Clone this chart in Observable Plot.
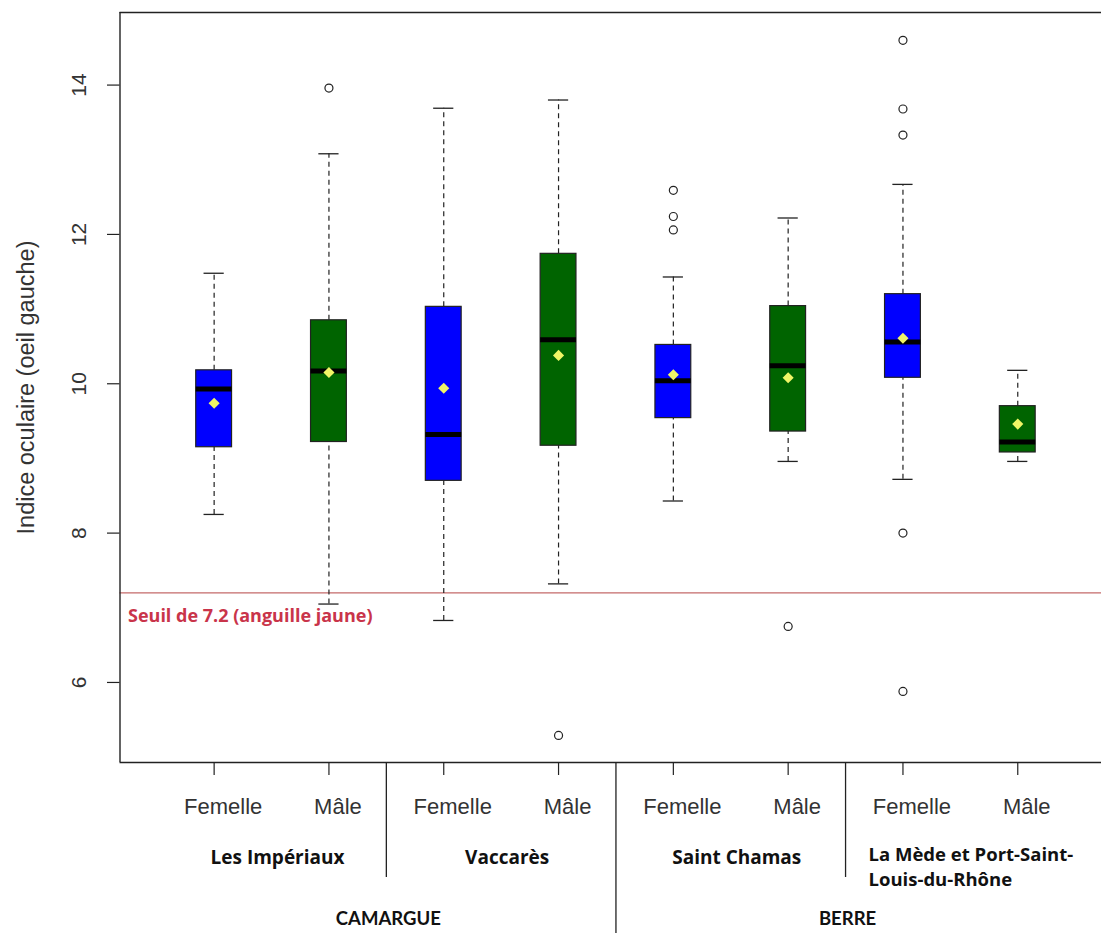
<!DOCTYPE html>
<html>
<head>
<meta charset="utf-8">
<script src="https://cdn.jsdelivr.net/npm/d3@7"></script>
<script src="https://cdn.jsdelivr.net/npm/@observablehq/plot@0.6"></script>
<style>
  html, body { margin: 0; padding: 0; background: #fff; }
  #chart svg { display: block; }
</style>
</head>
<body>
<div id="chart"></div>
<script>
// ---- data ----
const sites = ["Les Impériaux", "Vaccarès", "Saint Chamas", "La Mède et Port-Saint-\nLouis-du-Rhône"];
const regions = ["CAMARGUE", "BERRE"];
const sexes = ["Femelle", "Mâle", "Femelle", "Mâle", "Femelle", "Mâle", "Femelle", "Mâle"];
const lowWhisker  = [8.25, 7.05, 6.83, 7.32, 8.43, 8.96, 8.72, 8.96];
const q1          = [9.15, 9.22, 8.70, 9.17, 9.54, 9.36, 10.08, 9.08];
const medians     = [9.93, 10.17, 9.32, 10.59, 10.04, 10.24, 10.56, 9.22];
const q3          = [10.18, 10.85, 11.03, 11.74, 10.52, 11.04, 11.20, 9.70];
const highWhisker = [11.48, 13.08, 13.69, 13.80, 11.43, 12.22, 12.67, 10.18];
const means       = [9.74, 10.15, 9.94, 10.38, 10.12, 10.08, 10.61, 9.46];
const outlierBox   = [2, 4, 5, 5, 5, 6, 7, 7, 7, 7, 7];
const outlierValue = [13.96, 5.29, 12.59, 12.24, 12.06, 6.75, 14.60, 13.68, 13.33, 8.00, 5.88];
const yTicks = [6, 8, 10, 12, 14];
const threshold = 7.2;
const thresholdLabel = "Seuil de 7.2 (anguille jaune)";
const yLabel = "Indice oculaire (oeil gauche)";

// ---- derived tables ----
const boxes = sexes.map((s, i) => ({
  pos: i + 1, sex: s,
  lo: lowWhisker[i], q1: q1[i], med: medians[i], q3: q3[i], hi: highWhisker[i], mean: means[i]
}));
const outliers = outlierBox.map((b, i) => ({pos: b, v: outlierValue[i]}));
const siteTable = sites.map((s, i) => ({name: s, pos: 2 * i + 1.5}));
const regionTable = regions.map((r, i) => ({name: r, pos: 4 * i + 2.5}));

const xDomain = [0.18, 8.82];
const yDomain = [4.928, 14.972];
const xRange = [119.5, 1111.4];
const yRange = [762, 12];
const xs = Plot.scale({x: {type: "linear", domain: xDomain, range: xRange}});
const ys = Plot.scale({y: {type: "linear", domain: yDomain, range: yRange}});
const shortSepEnd = ys.invert(877);
const longSepEnd = ys.invert(933);
const xTickEnd = ys.invert(775);
const yTickEnd = xs.invert(107);

const boxHalf = 0.156, capHalf = 0.088;
const fillFor = s => s === "Femelle" ? "#0000ff" : "#006400";
const ink = "#222";
const sans = "'Liberation Sans', Arial, sans-serif";
const boldFont = "'Open Sans', Lato, sans-serif";
const capsFont = "Lato, 'Open Sans', sans-serif";

const chart = Plot.plot({
  width: 1101,
  height: 933,
  marginLeft: 119.5,
  marginRight: 0,
  marginTop: 12,
  marginBottom: 171,
  style: {fontFamily: sans, background: "#fff"},
  x: {type: "linear", domain: xDomain, range: xRange, axis: null},
  y: {type: "linear", domain: yDomain, range: yRange, axis: null},
  marks: [
    // threshold line
    Plot.ruleY([threshold], {x1: xDomain[0], x2: xDomain[1], stroke: "#c46a6a", strokeWidth: 1.3}),
    Plot.text([thresholdLabel], {x: xDomain[0], y: threshold, dx: 8, dy: 23, text: d => d,
      textAnchor: "start", fill: "#c9344a", fontSize: 18, fontWeight: "bold", fontFamily: boldFont}),
    // whiskers
    Plot.ruleX(boxes, {x: "pos", y1: "q3", y2: "hi", stroke: ink, strokeWidth: 1.2, strokeDasharray: "5,4"}),
    Plot.ruleX(boxes, {x: "pos", y1: "lo", y2: "q1", stroke: ink, strokeWidth: 1.2, strokeDasharray: "5,4"}),
    Plot.ruleY(boxes, {y: "hi", x1: d => d.pos - capHalf, x2: d => d.pos + capHalf, stroke: ink, strokeWidth: 1.3}),
    Plot.ruleY(boxes, {y: "lo", x1: d => d.pos - capHalf, x2: d => d.pos + capHalf, stroke: ink, strokeWidth: 1.3}),
    // boxes
    Plot.rect(boxes, {x1: d => d.pos - boxHalf, x2: d => d.pos + boxHalf, y1: "q1", y2: "q3",
      fill: d => fillFor(d.sex), stroke: ink, strokeWidth: 1.2}),
    Plot.ruleY(boxes, {y: "med", x1: d => d.pos - boxHalf, x2: d => d.pos + boxHalf, stroke: "#000", strokeWidth: 5}),
    Plot.dot(boxes, {x: "pos", y: "mean", symbol: "diamond2", r: 5, fill: "#f0f566", stroke: "none"}),
    // outliers
    Plot.dot(outliers, {x: "pos", y: "v", r: 4, fill: "none", stroke: ink, strokeWidth: 1.2}),
    // frame
    Plot.ruleY([yDomain[1], yDomain[0]], {x1: xDomain[0], x2: xDomain[1], stroke: ink, strokeWidth: 1.4}),
    Plot.ruleX([xDomain[0], xDomain[1]], {y1: yDomain[0], y2: yDomain[1], stroke: ink, strokeWidth: 1.4}),
    // y axis ticks and labels
    Plot.ruleY(yTicks, {y: d => d, x1: yTickEnd, x2: xDomain[0], stroke: ink, strokeWidth: 1.2}),
    Plot.text(yTicks, {x: xDomain[0], y: d => d, text: d => String(d), dx: -40.5, rotate: -90,
      fontSize: 21, fill: "#333", lineAnchor: "middle", textAnchor: "middle"}),
    Plot.text([yLabel], {x: xDomain[0], y: (yDomain[0] + yDomain[1]) / 2, text: d => d, dx: -94, rotate: -90,
      fontSize: 23.5, fill: "#333", lineAnchor: "middle", textAnchor: "middle"}),
    // x axis ticks and labels
    Plot.ruleX(boxes, {x: "pos", y1: yDomain[0], y2: xTickEnd, stroke: ink, strokeWidth: 1.2}),
    Plot.text(boxes, {x: "pos", y: yDomain[0], dx: 9, dy: 44, text: "sex", fontSize: 22, fill: "#333",
      lineAnchor: "middle", textAnchor: "middle"}),
    // separators
    Plot.ruleX([2.5, 6.5], {y1: yDomain[0], y2: shortSepEnd, stroke: ink, strokeWidth: 1.3}),
    Plot.ruleX([4.5], {y1: yDomain[0], y2: longSepEnd, stroke: ink, strokeWidth: 1.3}),
    // site labels
    Plot.text(siteTable.slice(0, 3), {x: "pos", y: yDomain[0], dx: 6, dy: 95, text: "name", fontSize: 19,
      fontWeight: "bold", fontFamily: boldFont, fill: "#111", lineAnchor: "middle", textAnchor: "middle"}),
    Plot.text(siteTable.slice(3), {x: 6.5, y: yDomain[0], dx: 23, dy: 103, text: "name", fontSize: 18.5,
      lineHeight: 1.36, fontWeight: "bold", fontFamily: boldFont, fill: "#111", lineAnchor: "middle", textAnchor: "start"}),
    // region labels
    Plot.text(regionTable, {x: "pos", y: yDomain[0], dx: 2, dy: 157, text: "name", fontSize: 18.5,
      fontWeight: "bold", fontFamily: capsFont, fill: "#111", lineAnchor: "middle", textAnchor: "middle"})
  ]
});
document.getElementById("chart").appendChild(chart);
</script>
</body>
</html>
